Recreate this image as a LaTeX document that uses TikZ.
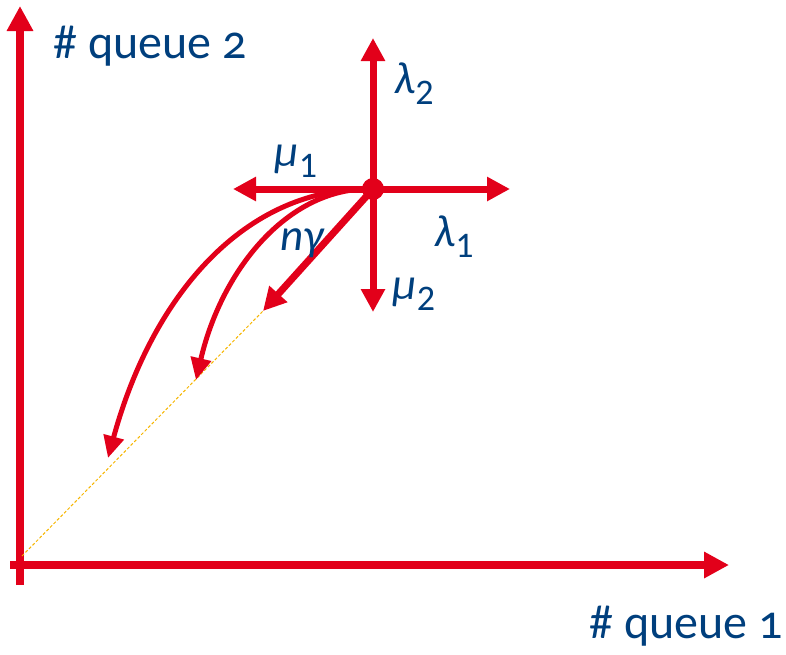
\documentclass[tikz,border=0pt]{standalone}
\usepackage{fontspec}
\setmainfont[Numbers=OldStyle]{Carlito}
\usetikzlibrary{arrows.meta}
\definecolor{axred}{HTML}{E2001A}
\definecolor{txtblue}{HTML}{003F7D}
\definecolor{dashor}{HTML}{F6B500}
\newcommand{\symlab}[2]{\textit{#1}\raisebox{-0.25em}{\fontsize{36}{36}\selectfont\addfontfeatures{Numbers=Lining} #2}}
\tikzset{
  axis/.style={draw=axred, line width=8pt, -{Triangle[length=25pt,width=25pt]}},
  rate/.style={draw=axred, line width=7pt, -{Triangle[length=23pt,width=23pt]}},
  flow/.style={draw=axred, line width=5pt, -{Triangle[length=22pt,width=20pt]}},
  axlab/.style={text=txtblue, font=\fontsize{48}{48}\selectfont, inner sep=0pt},
  ratelab/.style={text=txtblue, font=\fontsize{45}{45}\selectfont, inner sep=0pt},
}
\begin{document}
\begin{tikzpicture}[x=1pt,y=-1pt]
\useasboundingbox (0,0) rectangle (786,654);
% axes
\coordinate (ybot) at (20,585);
\coordinate (ytop) at (20,6);
\coordinate (xleft) at (10,565);
\coordinate (xright) at (729,565);
\draw[axis] (ybot) -- (ytop);
\draw[axis] (xleft) -- (xright);
\node[axlab] (q2) at (150,46) {\# queue 2};
\node[axlab] (q1) at (686,626) {\# queue 1};
% dashed diagonal
\coordinate (orig) at (22,556);
\coordinate (ngtip) at (263,311);
\draw[dashor, line width=1pt, dash pattern=on 3pt off 2pt] (orig) -- (ngtip);
% center state
\coordinate (c) at (373,189);
\coordinate (tU) at (373,38);
\coordinate (tD) at (373,312);
\coordinate (tL) at (233,189);
\coordinate (tR) at (510,189);
\coordinate (e1) at (108,458);
\coordinate (e2) at (196,380);
\draw[flow] (c) .. controls (245,186) and (152,296) .. (e1);
\draw[flow] (c) .. controls (290,186) and (222,268) .. (e2);
\draw[rate] (c) -- (tU);
\draw[rate] (c) -- (tD);
\draw[rate] (c) -- (tL);
\draw[rate] (c) -- (tR);
\draw[rate] (c) -- (ngtip);
\fill[axred] (c) circle (11pt);
% labels
\node[ratelab] (l2) at (414,84) {\symlab{λ}{2}};
\node[ratelab] (m1) at (296,161) {\symlab{μ}{1}};
\node[ratelab] (l1) at (454,237) {\symlab{λ}{1}};
\node[ratelab] (m2) at (414,294) {\symlab{μ}{2}};
\node[ratelab] (ng) at (303,243) {\textit{nγ}};
\end{tikzpicture}
\end{document}
